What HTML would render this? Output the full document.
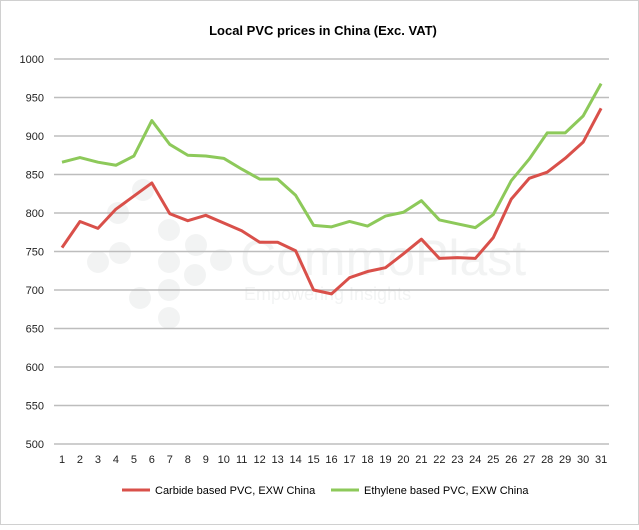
<!DOCTYPE html><html><head><style>body{margin:0;background:#fff}</style></head><body>
<svg width="639" height="525" xmlns="http://www.w3.org/2000/svg" font-family="Liberation Sans, sans-serif">
<rect x="0.5" y="0.5" width="638" height="524" fill="#fff" stroke="#d0d0d0"/>
<text x="323" y="35" text-anchor="middle" font-size="13" font-weight="bold">Local PVC prices in China (Exc. VAT)</text>
<g fill="#e8ebeb" opacity="0.55">
<circle cx="140" cy="298" r="11"/><circle cx="120" cy="253" r="11"/><circle cx="98" cy="262" r="11"/><circle cx="118" cy="213" r="11"/><circle cx="143" cy="190" r="11"/>
<circle cx="169" cy="230" r="11"/><circle cx="169" cy="262" r="11"/><circle cx="169" cy="290" r="11"/><circle cx="169" cy="318" r="11"/>
<circle cx="196" cy="245" r="11"/><circle cx="195" cy="275" r="11"/><circle cx="221" cy="260" r="11"/>
<text x="240" y="275" font-size="50" fill="#e8ebeb">CommoPlast</text>
<text x="244" y="300" font-size="18" fill="#e8ebeb">Empowering Insights</text>
</g>
<g stroke="#bdbdbd" stroke-width="1.5" id="g"></g>
<g font-size="11" fill="#222" text-anchor="end" id="yl"></g>
<g font-size="11" fill="#222" text-anchor="middle" id="xl"></g>
<polyline id="gr" fill="none" stroke="#8dc95a" stroke-width="3" stroke-linejoin="round"/>
<polyline id="rd" fill="none" stroke="#d9504a" stroke-width="3" stroke-linejoin="round"/>
<line x1="122" y1="490" x2="150" y2="490" stroke="#d9504a" stroke-width="3"/>
<text x="155" y="494" font-size="11">Carbide based PVC, EXW China</text>
<line x1="331" y1="490" x2="359" y2="490" stroke="#8dc95a" stroke-width="3"/>
<text x="364" y="494" font-size="11">Ethylene based PVC, EXW China</text>
</svg>
<script>
var ns="http://www.w3.org/2000/svg";
function Y(v){return 59+(1000-v)*0.77}function X(i){return 62+i*17.97}
var g=document.getElementById('g'),yl=document.getElementById('yl'),xl=document.getElementById('xl');
for(var v=500;v<=1000;v+=50){var l=document.createElementNS(ns,'line');l.setAttribute('x1',54);l.setAttribute('x2',609);l.setAttribute('y1',Y(v));l.setAttribute('y2',Y(v));g.appendChild(l);
var t=document.createElementNS(ns,'text');t.setAttribute('x',44);t.setAttribute('y',Y(v)+4);t.textContent=v;yl.appendChild(t);}
for(var i=0;i<31;i++){var t=document.createElementNS(ns,'text');t.setAttribute('x',X(i));t.setAttribute('y',463);t.textContent=i+1;xl.appendChild(t);}
var G=[866,872,866,862,874,920,889,875,874,871,857,844,844,823,784,782,789,783,796,801,816,791,786,781,798,842,870,904,904,926,968];
var R=[755,789,780,805,822,839,799,790,797,787,777,762,762,751,700,695,716,724,729,747,766,741,742,741,768,818,845,853,871,892,936];
function pts(a){return a.map(function(v,i){return X(i)+','+Y(v)}).join(' ')}
document.getElementById('gr').setAttribute('points',pts(G));
document.getElementById('rd').setAttribute('points',pts(R));
</script>
</body></html>
